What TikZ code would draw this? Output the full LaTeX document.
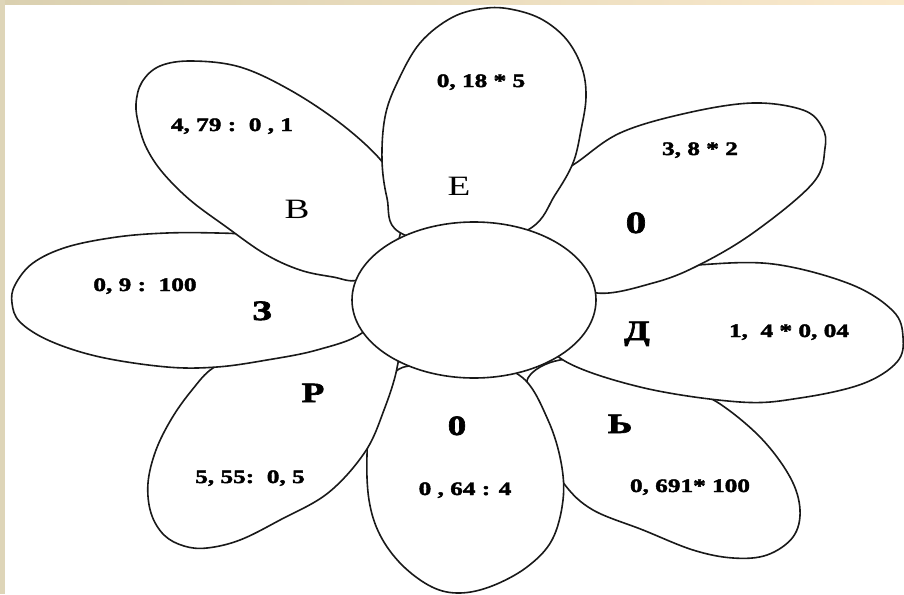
\documentclass[tikz,border=0pt]{standalone}
\usepackage{fontspec}
\setmainfont{Liberation Serif}[FakeStretch=1.33]
\newfontfamily\heavy{Liberation Serif Bold}[FakeStretch=1.33,FakeBold=2.2]
\usetikzlibrary{shapes.geometric}
\definecolor{frameA}{RGB}{218,208,176}
\definecolor{frameB}{RGB}{250,233,204}
\begin{document}
\begin{tikzpicture}[x=1pt,y=-1pt,
  petal/.style={draw=black!90,line width=1.6pt,fill=white},
  num/.style={anchor=base,inner sep=0pt,font=\fontsize{19}{19}\heavy},
  ltr/.style={anchor=base,inner sep=0pt,font=\fontsize{28}{28}\heavy},
  ltrr/.style={anchor=base,inner sep=0pt,font=\fontsize{28}{28}\selectfont}]
\useasboundingbox (0,0) rectangle (904,594);
\fill[white] (0,0) rectangle (904,594);
\shade[left color=frameA,right color=frameB] (0,0) rectangle (904,5);
\fill[frameA!90!white] (0,0) rectangle (5,594);
% petal Ь
\draw[petal] plot[smooth cycle,tension=0.6] coordinates {(717,402) (760,437) (790,477) (800,510) (793,537) (767,555) (733,558) (693,550) (643,530) (593,510) (565,485) (546,450) (535,405) (528,378) (560,360) (620,362) (685,390)};
% petal Д
\draw[petal] plot[smooth cycle,tension=0.6] coordinates {(560,358) (545,320) (572,288) (640,272) (697,265) (773,264) (850,284) (893,311) (903,337) (897,362) (862,384) (800,398) (740,402) (640,387)};
% petal 0 (upper right)
\draw[petal] plot[smooth cycle,tension=0.6] coordinates {(573,165) (620,133) (687,113) (753,103) (803,110) (822,127) (825,148) (813,183) (753,233) (697,266) (653,283) (597,293) (552,272) (525,235) (530,190)};
% petal 0 (bottom)
\draw[petal] plot[smooth cycle,tension=0.6] coordinates {(367,455) (369,500) (380,535) (402,565) (432,587) (460,593) (492,586) (527,567) (552,540) (563,500) (561,462) (548,420) (523,378) (480,362) (430,365) (395,372) (372,418)};
% petal Р
\draw[petal] plot[smooth cycle,tension=0.6] coordinates {(213,368) (192,390) (172,418) (156,450) (148,483) (151,513) (164,535) (184,546) (207,548) (240,540) (280,520) (328,493) (365,452) (384,410) (397,368) (398,335) (365,330) (300,345) (245,355)};
% petal З
\draw[petal] plot[smooth cycle,tension=0.6] coordinates {(12,303) (20,322) (50,341) (100,357) (167,367) (217,367) (267,360) (317,350) (362,333) (385,300) (362,258) (300,243) (250,235) (217,233) (167,233) (117,237) (67,247) (33,263) (15,285)};
% petal В
\draw[petal] plot[smooth cycle,tension=0.6] coordinates {(379,158) (340,123) (290,90) (240,67) (192,61) (160,66) (142,82) (136,104) (139,126) (147,149) (163,173) (190,200) (225,226) (265,254) (300,270) (333,277) (358,280) (388,262) (402,222) (392,182)};
% petal Е
\draw[petal] plot[smooth cycle,tension=0.6] coordinates {(399,232) (387,198) (382,160) (385,117) (397,83) (420,43) (453,17) (487,8) (515,10) (543,20) (567,40) (582,68) (586,97) (581,130) (573,163) (555,195) (531,228) (470,250)};
% centre
\node[petal,ellipse,minimum width=244pt,minimum height=156pt,inner sep=0pt] (core) at (474,300) {};
% texts
\node[num] (n1) at (481,87) {0, 18 * 5};
\node[num] (n2) at (232,131) {4, 79 :\ \ 0 , 1};
\node[num] (n3) at (700,155) {3, 8 * 2};
\node[num] (n4) at (145,291) {0, 9 :\ \ 100};
\node[num] (n5) at (789,337) {1,\ \ 4 * 0, 04};
\node[num] (n6) at (250,483) {5, 55:\ \ 0, 5};
\node[num] (n7) at (465,495) {0 , 64 : 4};
\node[num] (n8) at (690,492) {0, 691* 100};
\node[ltrr] (l1) at (459,195) {Е};
\node[ltrr] (l2) at (297,218) {В};
\node[ltr,font=\fontsize{31}{31}\heavy] (l3) at (636,233) {0};
\node[ltr] (l4) at (262,320) {З};
\node[ltr] (l5) at (637,340) {Д};
\node[ltr] (l6) at (313,402) {Р};
\node[ltr] (l7) at (457,435) {0};
\node[ltr] (l8) at (620,433) {Ь};
\end{tikzpicture}
\end{document}
